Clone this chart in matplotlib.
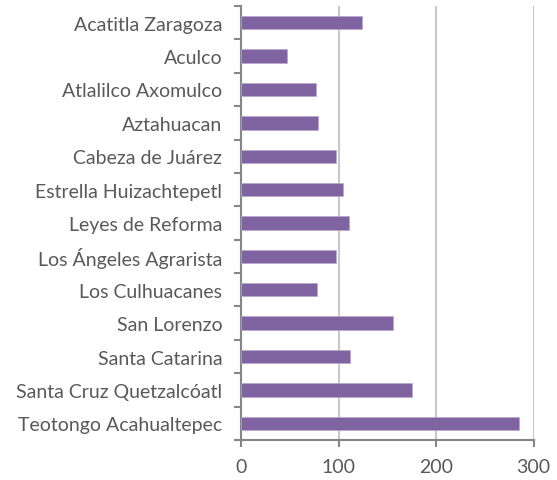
"""Horizontal bar chart of values per colonia."""

import matplotlib.pyplot as plt
import numpy as np

categories = [
    "Acatitla Zaragoza",
    "Aculco",
    "Atlalilco Axomulco",
    "Aztahuacan",
    "Cabeza de Juárez",
    "Estrella Huizachtepetl",
    "Leyes de Reforma",
    "Los Ángeles Agrarista",
    "Los Culhuacanes",
    "San Lorenzo",
    "Santa Catarina",
    "Santa Cruz Quetzalcóatl",
    "Teotongo Acahualtepec",
]
values = [124, 47, 77, 79, 97, 105, 111, 97, 78, 156, 112, 175, 285]
x_ticks = [0, 100, 200, 300]

plt.rcParams["font.family"] = ["Lato", "DejaVu Sans"]

fig = plt.figure(figsize=(5.57, 4.81), dpi=100)
ax = fig.add_axes([0.4327, 0.0832, 0.958 - 0.4327, 0.9854 - 0.0832])

y = np.arange(len(categories))
ax.barh(y, values, height=0.4, color="#8064A2", edgecolor="#B9A8CC",
        linewidth=0.5, zorder=3)

ax.set_ylim(len(categories) - 0.5, -0.5)
ax.set_xlim(0, 300)

ax.set_yticks(y)
ax.set_yticklabels(categories)
ax.set_yticks(np.arange(len(categories) + 1) - 0.5, minor=True)
ax.tick_params(axis="y", which="major", length=0, pad=13.5, labelsize=14,
               labelcolor="#595959")
ax.tick_params(axis="y", which="minor", length=5, width=1.5, color="#868686")

ax.set_xticks(x_ticks)
ax.tick_params(axis="x", length=5, width=1.5, color="#868686", pad=8,
               labelsize=14, labelcolor="#595959")

ax.grid(axis="x", color="#C8C8C8", linewidth=1.5, zorder=0)
for side in ["top", "right"]:
    ax.spines[side].set_visible(False)
for side in ["left", "bottom"]:
    ax.spines[side].set_color("#868686")
    ax.spines[side].set_linewidth(1.5)

fig.savefig("out.png", dpi=100)
